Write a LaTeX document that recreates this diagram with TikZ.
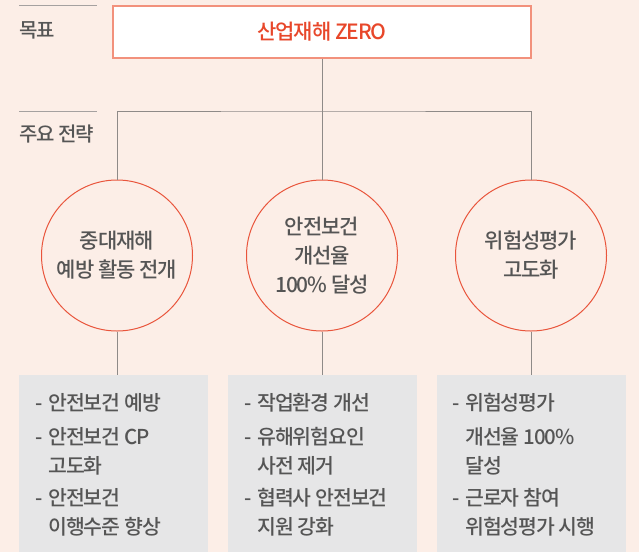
\documentclass[tikz,border=0pt]{standalone}
\usepackage{fontspec}
\setmainfont{Noto Sans CJK KR}[UprightFont=* Medium,LetterSpace=-5]
\definecolor{bgc}{HTML}{FCEEE7}
\definecolor{linec}{HTML}{8E8A88}
\definecolor{redc}{HTML}{E8472A}
\definecolor{boxborder}{HTML}{F2917C}
\definecolor{circc}{HTML}{E9553C}
\definecolor{txtc}{HTML}{555555}
\definecolor{grayfill}{HTML}{E6E6E7}
\newcommand{\dashitem}{\makebox[13pt][l]{-}}
\begin{document}
\begin{tikzpicture}[x=1pt,y=-1pt,
  conn/.style={draw=linec,line width=1pt},
  sep/.style={draw=linec!80,line width=1pt},
  lbl/.style={text=txtc,font=\fontsize{20}{22}\selectfont,anchor=west,inner sep=0},
  goalbox/.style={draw=boxborder,fill=white,line width=1.1pt,minimum width=418pt,minimum height=52pt,inner sep=0,
    text=redc,font=\fontsize{21}{22}\selectfont},
  strat/.style={circle,draw=circc,line width=1pt,minimum size=151pt,inner sep=0,align=center,
    text=txtc,font=\fontsize{21}{29}\selectfont},
  listbox/.style={fill=grayfill,minimum width=189pt,minimum height=177pt,inner sep=0,anchor=north west},
  item/.style={text=txtc,font=\fontsize{20.5}{22}\selectfont,anchor=base west,inner sep=0}
]
\fill[bgc] (0,0) rectangle (639,552);
\useasboundingbox (0,0) rectangle (639,552);

% left labels
\draw[sep] (19,5.5) -- (97,5.5);
\node[lbl] (l1) at (19,30) {목표};
\draw[sep] (19,111) -- (97,111);
\node[lbl] (l2) at (19,134) {주요 전략};

% goal
\node[goalbox] (goal) at (322,32) {산업재해 ZERO};

% strategies
\node[strat] (c1) at (117,255.5) {중대재해\\예방 활동 전개};
\node[strat] (c2) at (322,255.5) {안전보건\\개선율\\100\% 달성};
\node[strat] (c3) at (531,255.5) {위험성평가\\고도화};

\coordinate (j) at (322,111);
\draw[conn] (goal.south) -- (c2.north);
\draw[conn] (c1.north) |- (j) -| (c3.north);

% boxes
\node[listbox] (b1) at (19,375) {};
\node[listbox] (b2) at (228,375) {};
\node[listbox] (b3) at (437,375) {};

\draw[conn] (c1.south) -- (b1.north -| c1.south);
\draw[conn] (c2.south) -- (b2.north -| c2.south);
\draw[conn] (c3.south) -- (b3.north -| c3.south);

% box 1 text
\node[item] (a1) at (35,410.5) {\dashitem 안전보건 예방};
\node[item] (a2) at (35,444.5) {\dashitem 안전보건 CP};
\node[item] (a3) at (48,473.5) {고도화};
\node[item] (a4) at (35,505.5) {\dashitem 안전보건};
\node[item] (a5) at (48,534.5) {이행수준 향상};

% box 2 text
\node[item] (d1) at (244,410.5) {\dashitem 작업환경 개선};
\node[item] (d2) at (244,444.5) {\dashitem 유해위험요인};
\node[item] (d3) at (257,473.5) {사전 제거};
\node[item] (d4) at (244,505.5) {\dashitem 협력사 안전보건};
\node[item] (d5) at (257,534.5) {지원 강화};

% box 3 text
\node[item] (e1) at (452,410.5) {\dashitem 위험성평가};
\node[item] (e2) at (465,444.5) {개선율 100\%};
\node[item] (e3) at (465,473.5) {달성};
\node[item] (e4) at (452,505.5) {\dashitem 근로자 참여};
\node[item] (e5) at (465,534.5) {위험성평가 시행};
\end{tikzpicture}
\end{document}
